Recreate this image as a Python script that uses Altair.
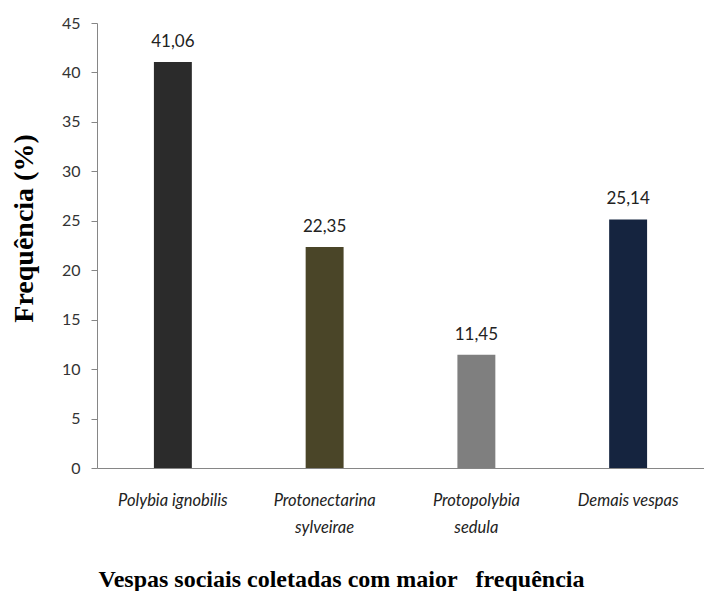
import altair as alt
import pandas as pd

categories = ["Polybia ignobilis", "Protonectarina\nsylveirae", "Protopolybia\nsedula", "Demais vespas"]
values = [41.06, 22.35, 11.45, 25.14]
value_labels = ["41,06", "22,35", "11,45", "25,14"]
colors = ["#2b2b2b", "#4a4528", "#7f7f7f", "#15243f"]

df = pd.DataFrame({"cat": categories, "val": values, "lbl": value_labels, "col": colors})

x_enc = alt.X(
    "cat:N",
    sort=categories,
    scale=alt.Scale(paddingInner=0.75, paddingOuter=0.375),
    axis=alt.Axis(
        title="Vespas sociais coletadas com maior\u00a0\u00a0 frequência",
        titleFont="Liberation Serif",
        titleFontSize=24,
        titleFontWeight="bold",
        titleColor="#000000",
        titleAnchor="start",
        titleAlign="center",
        titleX=244,
        titleY=118,
        titleBaseline="alphabetic",
        labelExpr="split(datum.value, '\\n')",
        labelAngle=0,
        labelFont="Lato",
        labelFontStyle="italic",
        labelFontSize=16.5,
        labelColor="#222222",
        labelLineHeight=27,
        labelBaseline="top",
        labelPadding=24,
        ticks=False,
        domainColor="#868686",
        domainWidth=1,
    ),
)

y_enc = alt.Y(
    "val:Q",
    scale=alt.Scale(domain=[0, 45], nice=False),
    axis=alt.Axis(
        values=[0, 5, 10, 15, 20, 25, 30, 35, 40, 45],
        title="Frequência (%)",
        titleFont="Liberation Serif",
        titleFontSize=28,
        titleFontWeight="bold",
        titleColor="#000000",
        titleAngle=270,
        titleAlign="center",
        titleBaseline="alphabetic",
        titleX=-65,
        titleY=205,
        labelFont="Lato",
        labelFontSize=16,
        labelColor="#333333",
        labelPadding=11,
        tickSize=6,
        tickColor="#868686",
        domainColor="#868686",
        grid=False,
    ),
)

bars = alt.Chart(df).mark_bar().encode(
    x=x_enc,
    y=y_enc,
    color=alt.Color("col:N", scale=None),
)

text = alt.Chart(df).mark_text(
    font="Lato", fontSize=17, color="#222222", baseline="alphabetic", dy=-15
).encode(
    x=alt.X("cat:N", sort=categories),
    y=alt.Y("val:Q"),
    text="lbl:N",
)

chart = (
    alt.layer(bars, text)
    .properties(
        width=607,
        height=445,
        padding={"left": 97, "top": 23, "right": 0, "bottom": 123},
        autosize=alt.AutoSizeParams(type="none"),
        background="#ffffff",
    )
    .configure_view(stroke=None)
)

chart.save("out.html", embed_options={"renderer": "svg", "actions": False})
